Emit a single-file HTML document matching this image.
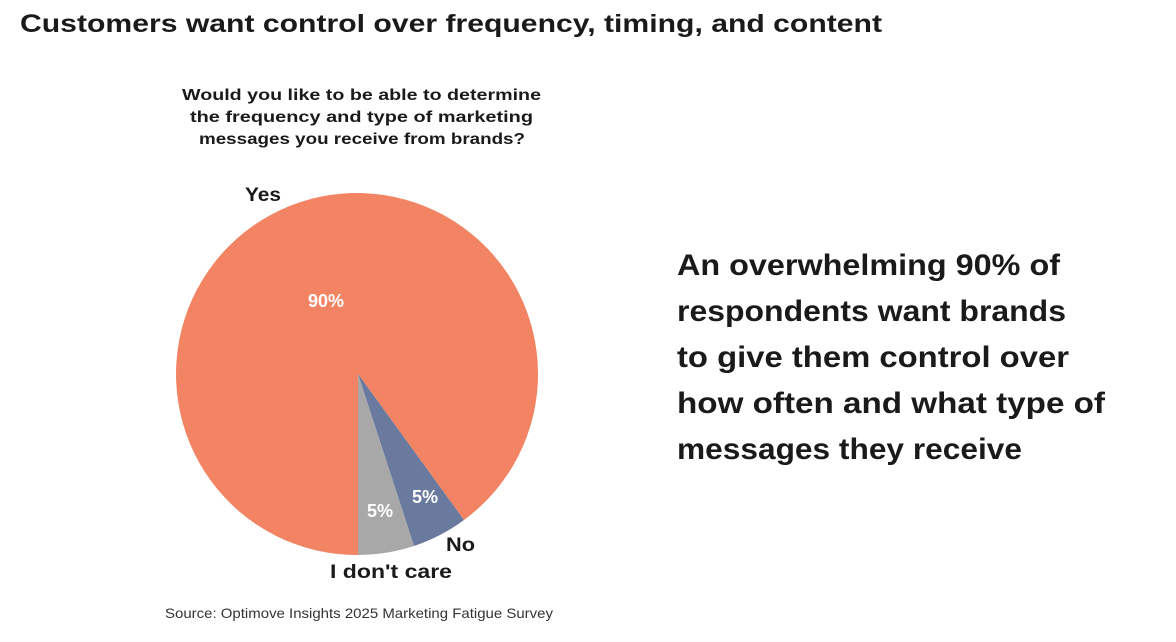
<!DOCTYPE html>
<html><head><meta charset="utf-8"><style>
html,body{margin:0;padding:0;background:#fff;}
body{width:1176px;height:637px;overflow:hidden;font-family:"Liberation Sans",sans-serif;}
</style></head><body>
<svg width="1176" height="637" viewBox="0 0 1176 637" xmlns="http://www.w3.org/2000/svg" font-family="Liberation Sans, sans-serif">
<text x="20" y="32" font-size="25" font-weight="bold" fill="#1a1a1a" textLength="862" lengthAdjust="spacingAndGlyphs">Customers want control over frequency, timing, and content</text>
<g font-size="16" font-weight="bold" fill="#1a1a1a">
<text x="182" y="100" textLength="359" lengthAdjust="spacingAndGlyphs">Would you like to be able to determine</text>
<text x="190" y="122" textLength="343" lengthAdjust="spacingAndGlyphs">the frequency and type of marketing</text>
<text x="199" y="144" textLength="326" lengthAdjust="spacingAndGlyphs">messages you receive from brands?</text>
</g>
<path d="M358,374 L358,555 A181,181 0 1 1 464,520 Z" fill="#F28463"/>
<path d="M358,374 L464,520 A181,181 0 0 1 414,546 Z" fill="#6A7A9E"/>
<path d="M358,374 L414,546 A181,181 0 0 1 358,555 Z" fill="#A8A8A8"/>
<g font-size="18" font-weight="bold" fill="#fff" text-anchor="middle">
<text x="326" y="307">90%</text>
<text x="380" y="517">5%</text>
<text x="425" y="503">5%</text>
</g>
<g font-size="19" font-weight="bold" fill="#1a1a1a">
<text x="245" y="201" textLength="36" lengthAdjust="spacingAndGlyphs">Yes</text>
<text x="446" y="551" textLength="29" lengthAdjust="spacingAndGlyphs">No</text>
<text x="330" y="578" textLength="122" lengthAdjust="spacingAndGlyphs">I don't care</text>
</g>
<text x="165" y="618" font-size="14" fill="#333" textLength="388" lengthAdjust="spacingAndGlyphs">Source: Optimove Insights 2025 Marketing Fatigue Survey</text>
<g font-size="30" font-weight="bold" fill="#1a1a1a">
<text x="677" y="275" textLength="383" lengthAdjust="spacingAndGlyphs">An overwhelming 90% of</text>
<text x="677" y="321" textLength="389" lengthAdjust="spacingAndGlyphs">respondents want brands</text>
<text x="677" y="367" textLength="392" lengthAdjust="spacingAndGlyphs">to give them control over</text>
<text x="677" y="413" textLength="428" lengthAdjust="spacingAndGlyphs">how often and what type of</text>
<text x="677" y="459" textLength="345" lengthAdjust="spacingAndGlyphs">messages they receive</text>
</g>
</svg>
</body></html>
